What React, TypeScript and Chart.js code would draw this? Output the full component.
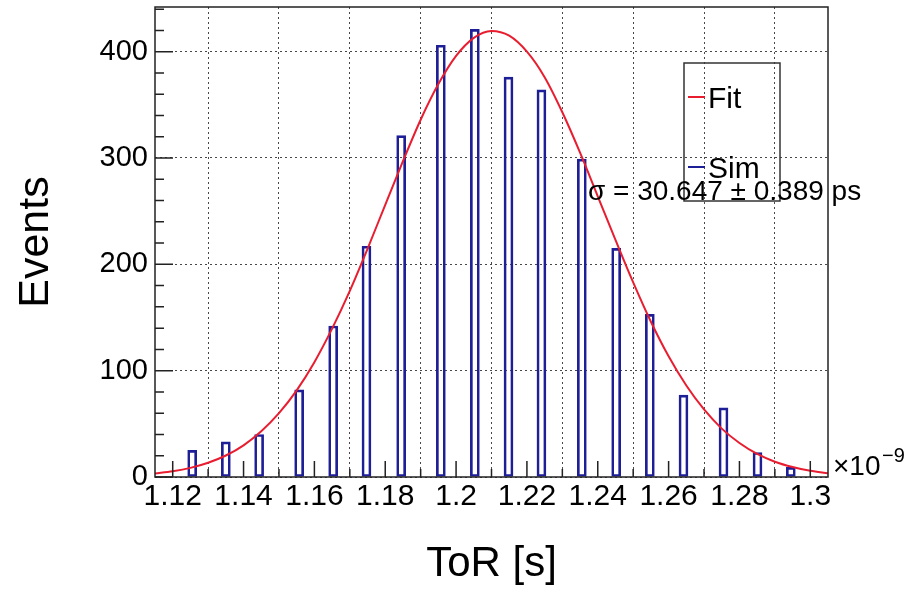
import React, { useEffect, useRef } from "react";
import { Chart, registerables } from "chart.js";

Chart.register(...registerables);

// ---- data ----
const BIN_X = [1.1255, 1.135, 1.1444, 1.1557, 1.1653, 1.1747, 1.1845, 1.1957, 1.2053, 1.2148, 1.2241, 1.2355, 1.2452, 1.2547, 1.2642, 1.2755, 1.2851, 1.2945];
const SIM_COUNTS = [25, 33, 40, 82, 142, 217, 321, 406, 421, 376, 364, 299, 215, 153, 77, 65, 23, 9];

const FIT_X = [1.115, 1.12, 1.125, 1.13, 1.135, 1.14, 1.145, 1.15, 1.155, 1.16, 1.165, 1.17, 1.175, 1.18, 1.185, 1.19, 1.195, 1.2, 1.205, 1.21, 1.215, 1.22, 1.225, 1.23, 1.235, 1.24, 1.245, 1.25, 1.255, 1.26, 1.265, 1.27, 1.275, 1.28, 1.285, 1.29, 1.295, 1.3, 1.305];
const FIT_Y = [3.3, 5.4, 8.6, 13.4, 20.2, 29.8, 43, 60, 81.5, 108, 139.5, 175, 214.5, 256, 297, 336, 369.5, 396, 413, 419.5, 415, 400, 376, 343, 305, 264, 223, 183, 146, 113.5, 86, 63.5, 45.5, 32, 21.7, 14.4, 9.4, 5.9, 3.6];

const X_TICKS = [1.12, 1.14, 1.16, 1.18, 1.2, 1.22, 1.24, 1.26, 1.28, 1.3];
const X_MINOR = [1.13, 1.15, 1.17, 1.19, 1.21, 1.23, 1.25, 1.27, 1.29];
const Y_TICKS = [0, 100, 200, 300, 400];
const Y_MINOR = [20, 40, 60, 80, 120, 140, 160, 180, 220, 240, 260, 280, 320, 340, 360, 380, 420, 440];
const X_MIN = 1.115;
const X_MAX = 1.305;
const Y_MIN = 0;
const Y_MAX = 442;

const FIT_LABEL = "Fit";
const SIM_LABEL = "Sim";
const X_TITLE = "ToR [s]";
const Y_TITLE = "Events";
const SIGMA_TEXT = "σ = 30.647 ± 0.389 ps";
const X_EXP_BASE = "×10";
const X_EXP_POWER = "−9";

const FONT = "'Liberation Sans', Arial, Helvetica, sans-serif";
const RED = "rgb(232, 30, 48)";
const BLUE = "rgb(30, 30, 150)";
const AXIS = "#222";

const decorPlugin = {
  id: "decor",
  afterDatasetsDraw(chart: any) {
    const { ctx, chartArea: a, scales } = chart;
    const x = scales.x;
    const y = scales.y;
    ctx.save();
    ctx.strokeStyle = AXIS;
    ctx.lineWidth = 1.5;
    ctx.beginPath();
    Y_TICKS.forEach((v) => {
      const py = y.getPixelForValue(v);
      ctx.moveTo(a.left, py);
      ctx.lineTo(a.left + 18, py);
    });
    Y_MINOR.forEach((v) => {
      const py = y.getPixelForValue(v);
      ctx.moveTo(a.left, py);
      ctx.lineTo(a.left + 9, py);
    });
    X_TICKS.forEach((v) => {
      const px = x.getPixelForValue(v);
      ctx.moveTo(px, a.bottom);
      ctx.lineTo(px, a.bottom - 16);
    });
    X_MINOR.forEach((v) => {
      const px = x.getPixelForValue(v);
      ctx.moveTo(px, a.bottom);
      ctx.lineTo(px, a.bottom - 8);
    });
    ctx.stroke();
    ctx.strokeRect(a.left, a.top, a.right - a.left, a.bottom - a.top);

    // legend box
    const ds = chart.data.datasets;
    ctx.strokeStyle = "#333";
    ctx.lineWidth = 1.5;
    ctx.strokeRect(684, 63, 96, 138);
    ctx.font = `30px ${FONT}`;
    ctx.textBaseline = "alphabetic";
    ctx.textAlign = "left";
    const rows = [
      { ds: ds[0], y: 97, base: 108 },
      { ds: ds[1], y: 167, base: 178 },
    ];
    rows.forEach((r) => {
      ctx.strokeStyle = r.ds.borderColor;
      ctx.lineWidth = 2;
      ctx.beginPath();
      ctx.moveTo(688, r.y);
      ctx.lineTo(705, r.y);
      ctx.stroke();
      ctx.fillStyle = "#000";
      ctx.fillText(r.ds.label, 708, r.base);
    });

    // sigma annotation
    ctx.font = `28px ${FONT}`;
    ctx.fillStyle = "#000";
    ctx.fillText(SIGMA_TEXT, 588, 200);

    // x exponent
    ctx.font = `28px ${FONT}`;
    ctx.fillText(X_EXP_BASE, 833, 475);
    ctx.font = `20px ${FONT}`;
    ctx.fillText(X_EXP_POWER, 882, 462);
    ctx.restore();
  },
};

export default function App() {
  const ref = useRef<HTMLCanvasElement | null>(null);

  useEffect(() => {
    const canvas = ref.current;
    if (!canvas) return;
    const chart = new Chart(canvas, {
      type: "bar",
      data: {
        datasets: [
          {
            type: "line",
            label: FIT_LABEL,
            data: FIT_X.map((v, i) => ({ x: v, y: FIT_Y[i] })),
            borderColor: RED,
            borderWidth: 2,
            pointRadius: 0,
            tension: 0.4,
            cubicInterpolationMode: "monotone",
            fill: false,
            order: 0,
          } as any,
          {
            type: "bar",
            label: SIM_LABEL,
            data: BIN_X.map((v, i) => ({ x: v, y: SIM_COUNTS[i] })),
            borderColor: BLUE,
            backgroundColor: "rgba(255,255,255,0)",
            borderWidth: 2,
            borderSkipped: false,
            barThickness: 9,
            order: 1,
          } as any,
        ],
      },
      options: {
        animation: false,
        responsive: false,
        maintainAspectRatio: false,
        layout: { padding: { left: 0, top: 7, right: 89, bottom: 0 } },
        plugins: {
          legend: { display: false },
          tooltip: { enabled: false },
          title: { display: false },
        },
        scales: {
          x: {
            type: "linear",
            min: X_MIN,
            max: X_MAX,
            offset: false,
            afterBuildTicks: (s: any) => {
              s.ticks = X_TICKS.map((v) => ({ value: v }));
            },
            afterFit: (s: any) => {
              s.height = 113;
              s.paddingLeft = 0;
              s.paddingRight = 0;
            },
            ticks: {
              color: "#000",
              font: { family: FONT, size: 30 },
              padding: 2,
              maxRotation: 0,
              autoSkip: false,
              callback: (v: any) => String(Number(Number(v).toFixed(2))),
            },
            grid: { color: "rgba(40,40,40,0.85)", lineWidth: 1, drawTicks: false },
            border: { display: false, dash: [2, 3] },
            title: {
              display: true,
              text: X_TITLE,
              color: "#000",
              font: { family: FONT, size: 42 },
              padding: { top: 0, bottom: 0 },
            },
          },
          y: {
            type: "linear",
            min: Y_MIN,
            max: Y_MAX,
            afterBuildTicks: (s: any) => {
              s.ticks = Y_TICKS.map((v) => ({ value: v }));
            },
            afterFit: (s: any) => {
              s.width = 155;
              s.paddingTop = 0;
              s.paddingBottom = 0;
            },
            ticks: {
              color: "#000",
              font: { family: FONT, size: 29 },
              padding: 7,
            },
            grid: { color: "rgba(40,40,40,0.85)", lineWidth: 1, drawTicks: false },
            border: { display: false, dash: [2, 3] },
            title: {
              display: true,
              text: Y_TITLE,
              color: "#000",
              font: { family: FONT, size: 43 },
              padding: { top: 10, bottom: 0 },
            },
          },
        },
      },
      plugins: [decorPlugin],
    });
    return () => chart.destroy();
  }, []);

  return (
    <div style={{ position: "absolute", left: 0, top: 0, width: 917, height: 590, background: "#fff" }}>
      <canvas ref={ref} width={917} height={590} style={{ display: "block", width: 917, height: 590 }} />
    </div>
  );
}
